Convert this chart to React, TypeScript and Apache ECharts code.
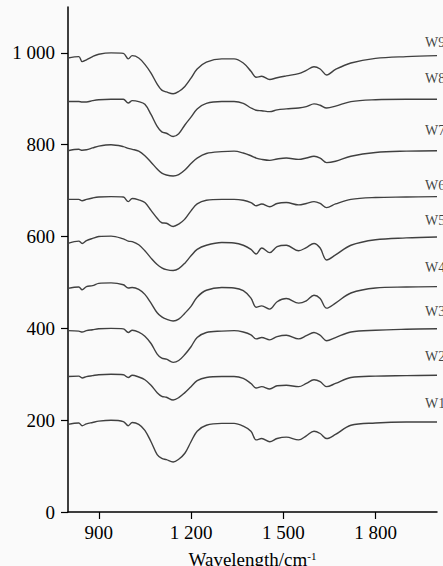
import React, { useEffect, useRef } from "react";
import * as echarts from "echarts";

const wavenumbers = [800, 835, 846, 860, 880, 900, 940, 980, 996, 1009, 1030, 1050, 1070, 1090, 1105, 1120, 1142, 1160, 1180, 1200, 1220, 1250, 1300, 1340, 1370, 1395, 1412, 1430, 1456, 1480, 1510, 1550, 1575, 1600, 1620, 1641, 1670, 1720, 1800, 1900, 2000];

const W1 = [191, 194, 188, 192, 195, 198, 200, 197, 188, 195, 191, 178, 153, 125, 117, 114, 109, 115, 128, 153, 176, 189, 193, 193, 187, 176, 157, 160, 153, 160, 163, 157, 166, 176, 171, 160, 169, 189, 194, 196, 196];
const W2 = [295, 296, 292, 295, 297, 299, 300, 299, 293, 298, 294, 288, 276, 260, 252, 250, 244, 249, 260, 273, 286, 293, 295, 295, 291, 280, 270, 273, 268, 275, 276, 273, 280, 288, 284, 273, 280, 293, 296, 297, 298];
const W3 = [395, 394, 392, 395, 397, 399, 400, 399, 391, 396, 392, 383, 367, 344, 335, 333, 326, 330, 343, 360, 380, 391, 394, 395, 392, 386, 377, 380, 375, 382, 385, 377, 384, 391, 385, 373, 380, 392, 396, 398, 399];
const W4 = [487, 490, 484, 491, 493, 498, 499, 495, 488, 489, 485, 474, 455, 434, 425, 420, 416, 420, 433, 448, 468, 483, 489, 488, 482, 466, 446, 449, 442, 458, 465, 455, 460, 472, 465, 444, 455, 477, 488, 490, 491];
const W5 = [585, 590, 585, 591, 596, 600, 601, 595, 590, 589, 582, 569, 553, 539, 532, 528, 526, 530, 542, 558, 572, 581, 587, 586, 581, 572, 562, 575, 565, 578, 581, 569, 576, 585, 575, 549, 560, 581, 593, 597, 599];
const W6 = [681, 681, 678, 681, 684, 686, 687, 686, 676, 683, 680, 674, 657, 640, 630, 629, 622, 627, 638, 656, 671, 679, 681, 681, 679, 674, 667, 671, 665, 672, 674, 669, 672, 676, 672, 663, 671, 681, 685, 686, 687];
const W7 = [787, 790, 788, 789, 793, 797, 800, 796, 792, 790, 786, 776, 762, 747, 738, 734, 732, 735, 745, 759, 771, 781, 785, 786, 782, 776, 771, 768, 766, 769, 771, 768, 771, 775, 771, 761, 764, 775, 783, 786, 787];
const W8 = [894, 894, 893, 893, 896, 898, 899, 899, 891, 896, 894, 888, 866, 840, 828, 825, 818, 824, 843, 860, 878, 890, 894, 894, 890, 880, 875, 874, 872, 876, 878, 880, 883, 889, 886, 880, 884, 894, 898, 899, 899];
const W9 = [989, 992, 981, 985, 992, 997, 1000, 999, 987, 994, 989, 975, 956, 932, 919, 915, 911, 916, 927, 945, 965, 980, 987, 987, 978, 960, 947, 949, 942, 946, 950, 955, 962, 970, 965, 952, 964, 978, 988, 992, 994];

const seriesNames = ["W1", "W2", "W3", "W4", "W5", "W6", "W7", "W8", "W9"];
const seriesValues = [W1, W2, W3, W4, W5, W6, W7, W8, W9];
const labelX = 1961;
const labelY = [236, 338, 436, 533, 636, 712, 830, 944, 1022];

const yTicks = [0, 200, 400, 600, 800, 1000];
const xTicks = [900, 1200, 1500, 1800];

const FONT = "Liberation Serif";

function fmt(v: number) {
  if (v >= 1000) {
    const s = String(v);
    return s.slice(0, s.length - 3) + " " + s.slice(s.length - 3);
  }
  return String(v);
}

export default function App() {
  const ref = useRef<HTMLDivElement>(null);
  useEffect(() => {
    if (!ref.current) return;
    const chart = echarts.init(ref.current, undefined, { renderer: "svg" });
    const lineSeries = seriesValues.map((vals, i) => ({
      name: seriesNames[i],
      type: "line",
      data: wavenumbers.map((x, j) => [x, vals[j]]),
      smooth: 0.35,
      showSymbol: false,
      symbol: "none",
      lineStyle: { color: "#404040", width: 1.4 },
      silent: true,
    }));
    chart.setOption({
      animation: false,
      backgroundColor: "#fafafa",
      grid: { left: 68, right: 6, top: 7, bottom: 54, outerBoundsMode: "none", containLabel: false },
      xAxis: {
        type: "value",
        min: 800,
        max: 2000,
        name: "{a|Wavelength/cm}{b|-1}",
        nameLocation: "middle",
        nameGap: 38,
        nameTextStyle: {
          rich: {
            a: { fontSize: 19, fontFamily: FONT, color: "#000", lineHeight: 19 },
            b: { fontSize: 11, fontFamily: FONT, color: "#000", verticalAlign: "top", lineHeight: 11 },
          },
        },
        axisLine: { show: true, lineStyle: { color: "#000", width: 1.5 } },
        axisTick: { show: true, length: 7, customValues: xTicks, lineStyle: { color: "#000", width: 1.2 } },
        axisLabel: { customValues: xTicks, formatter: (v: number) => fmt(v), fontFamily: FONT, fontSize: 19, color: "#000", margin: 11 },
        splitLine: { show: false },
      },
      yAxis: {
        type: "value",
        min: 0,
        max: 1100,
        axisLine: { show: true, lineStyle: { color: "#000", width: 1.5 } },
        axisTick: { show: true, length: 7, customValues: yTicks, lineStyle: { color: "#000", width: 1.2 } },
        axisLabel: { customValues: yTicks, formatter: (v: number) => fmt(v), fontFamily: FONT, fontSize: 19, color: "#000", margin: 13 },
        splitLine: { show: false },
      },
      series: [
        ...lineSeries,
        {
          type: "scatter",
          symbolSize: 0,
          silent: true,
          data: labelY.map((y) => [labelX, y]),
          label: {
            show: true,
            position: "right",
            distance: 0,
            formatter: (p: any) => seriesNames[p.dataIndex],
            fontFamily: FONT,
            fontSize: 14,
            color: "#111",
          },
        },
      ],
    });
    return () => chart.dispose();
  }, []);
  return <div ref={ref} style={{ position: "absolute", left: 0, top: 0, width: 443, height: 566 }} />;
}
